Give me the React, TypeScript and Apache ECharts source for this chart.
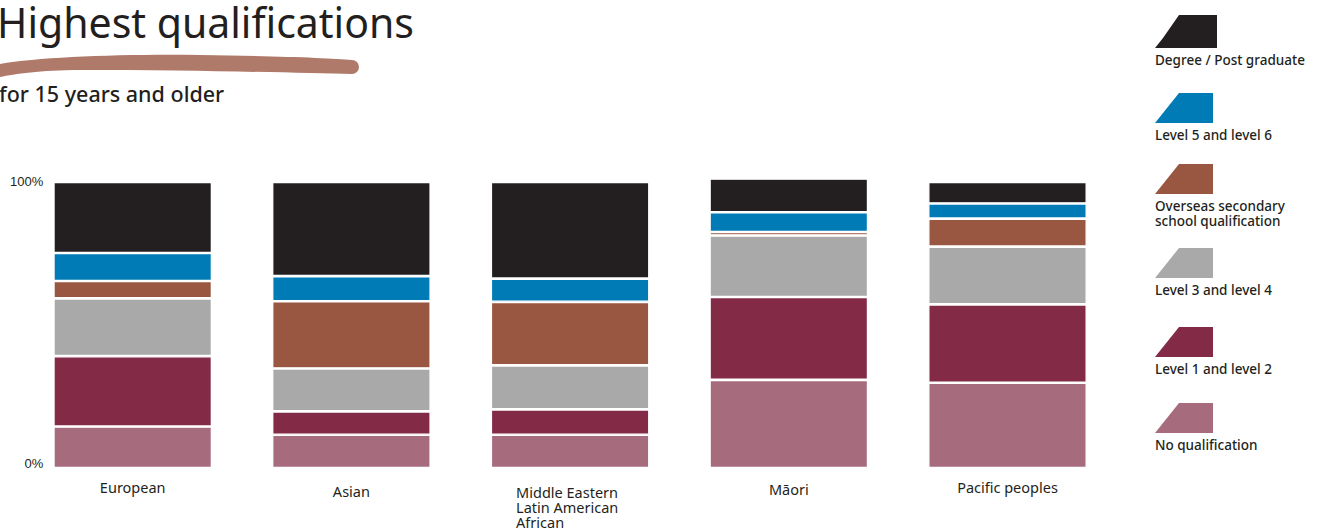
import React, { useEffect, useRef } from "react";
import * as echarts from "echarts";

const categories = [
  "European",
  "Asian",
  "Middle Eastern\nLatin American\nAfrican",
  "Māori",
  "Pacific peoples",
];

const seriesNames = [
  "No qualification",
  "Level 1 and level 2",
  "Level 3 and level 4",
  "Overseas secondary school qualification",
  "Level 5 and level 6",
  "Degree / Post graduate",
];

const noQualification = [14.5, 11.6, 11.6, 30.8, 29.8];
const level1and2 = [24.6, 8.2, 8.9, 29.0, 27.4];
const level3and4 = [20.2, 15.0, 15.4, 21.5, 20.2];
const overseasSecondary = [6.1, 23.5, 22.2, 1.2, 9.8];
const level5and6 = [9.8, 8.8, 8.1, 6.9, 5.3];
const degreePostgrad = [24.8, 32.9, 33.8, 11.8, 7.5];

const seriesValues = [
  noQualification,
  level1and2,
  level3and4,
  overseasSecondary,
  level5and6,
  degreePostgrad,
];

const seriesColors = ["#a66b7c", "#832a47", "#a9a9a9", "#995641", "#007bb5", "#231f20"];

const yTickLabels = ["0%", "100%"];

// legend (top to bottom)
const legendLabels = [
  "Degree / Post graduate",
  "Level 5 and level 6",
  "Overseas secondary\nschool qualification",
  "Level 3 and level 4",
  "Level 1 and level 2",
  "No qualification",
];
const legendColors = ["#231f20", "#007bb5", "#995641", "#a9a9a9", "#832a47", "#a66b7c"];

const FONT = "'Noto Sans', 'Open Sans', sans-serif";
const AXISFONT = "'Liberation Sans', Arial, sans-serif";

const BRUSH_D =
  "M0,64 C40,57 120,54 200,55 C280,56 330,58 352,60 A7,7 0 0 1 352,74 C300,73 200,70 80,70 C40,70 15,74 0,77 Z";

// vertical nudge of some category labels (style only)
const labelPad: Record<string, number> = { Asian: 4, "Māori": 2 };

export default function App() {
  const ref = useRef<HTMLDivElement>(null);

  useEffect(() => {
    if (!ref.current) return;
    try {
      echarts.graphic.registerShape("brush", echarts.graphic.extendPath(BRUSH_D, {}));
    } catch (e) {}
    const chart = echarts.init(ref.current, undefined, { renderer: "svg" });

    const legendTops = [15, 93, 164, 248, 327, 403];
    const legendGraphics: any[] = [];
    legendLabels.forEach((label, i) => {
      const top = legendTops[i];
      const h = i === 0 ? 33 : 30;
      const w = i === 0 ? 62 : 58;
      const x0 = 1155;
      legendGraphics.push({
        type: "polygon",
        shape: {
          points: [
            [x0 + 24, top],
            [x0 + w, top],
            [x0 + w, top + h],
            [x0, top + h],
            [x0 + 8, top + h - 10],
          ],
        },
        style: { fill: legendColors[i] },
      });
      legendGraphics.push({
        type: "text",
        x: x0,
        y: top + h + 4,
        style: {
          text: label,
          font: `500 13.5px ${FONT}`,
          fill: "#231f20",
          lineHeight: 15,
          textVerticalAlign: "top",
        },
      });
    });

    const option: any = {
      animation: false,
      backgroundColor: "#ffffff",
      grid: { left: 23.35, width: 1093.5, top: 182, bottom: 59.4, containLabel: false },
      xAxis: {
        type: "category",
        data: categories.map((c) =>
          c.indexOf("\n") >= 0
            ? { value: c, textStyle: { padding: [6, 0, 0, 0] } }
            : labelPad[c]
            ? { value: c, textStyle: { padding: [labelPad[c], 0, 0, 0] } }
            : c
        ),
        axisLine: { show: false },
        axisTick: { show: false },
        axisLabel: {
          margin: 10,
          color: "#231f20",
          fontFamily: FONT,
          fontSize: 14.5,
          lineHeight: 17,
          formatter: (v: string) =>
            v.indexOf("\n") >= 0
              ? v
                  .split("\n")
                  .map((l) => `{l|${l}}`)
                  .join("\n")
              : v,
          rich: {
            l: { width: 108, align: "left", fontSize: 14.5, lineHeight: 15, fontFamily: FONT, color: "#231f20" },
          },
        },
      },
      yAxis: {
        type: "value",
        min: 0,
        max: 100,
        interval: 100,
        offset: -28,
        axisLine: { show: false },
        axisTick: { show: false },
        splitLine: { show: false },
        axisLabel: {
          margin: 8,
          color: "#231f20",
          fontFamily: AXISFONT,
          fontSize: 13,
          formatter: (v: number) =>
            v === 0 ? `{z|${yTickLabels[0]}}` : v === 100 ? `{h|${yTickLabels[1]}}` : "",
          rich: {
            z: { padding: [0, 0, 10, 0], fontSize: 13, color: "#231f20", fontFamily: AXISFONT },
            h: { padding: [0, 0, 2, 0], fontSize: 13, color: "#231f20", fontFamily: AXISFONT },
          },
        },
      },
      series: seriesValues.map((vals, i) => ({
        name: seriesNames[i],
        type: "bar",
        stack: "total",
        barWidth: 158.6,
        clip: false,
        data: vals,
        itemStyle: { color: seriesColors[i], borderColor: "#ffffff", borderWidth: 1.3 },
      })),
      graphic: [
        {
          type: "text",
          x: -3,
          y: 22,
          style: {
            text: "Highest qualifications",
            font: `400 41px ${FONT}`,
            fill: "#231f20",
            textVerticalAlign: "middle",
          },
        },
        {
          type: "brush",
          x: 0,
          y: 0,
          style: { fill: "#b07a6a" },
        },
        {
          type: "text",
          x: -1,
          y: 93,
          style: {
            text: "for 15 years and older",
            font: `500 21.5px ${FONT}`,
            fill: "#231f20",
            textVerticalAlign: "middle",
          },
        },
        ...legendGraphics,
      ],
    };

    chart.setOption(option);
    return () => chart.dispose();
  }, []);

  return (
    <div
      ref={ref}
      style={{ position: "absolute", left: 0, top: 0, width: 1335, height: 529 }}
    />
  );
}
